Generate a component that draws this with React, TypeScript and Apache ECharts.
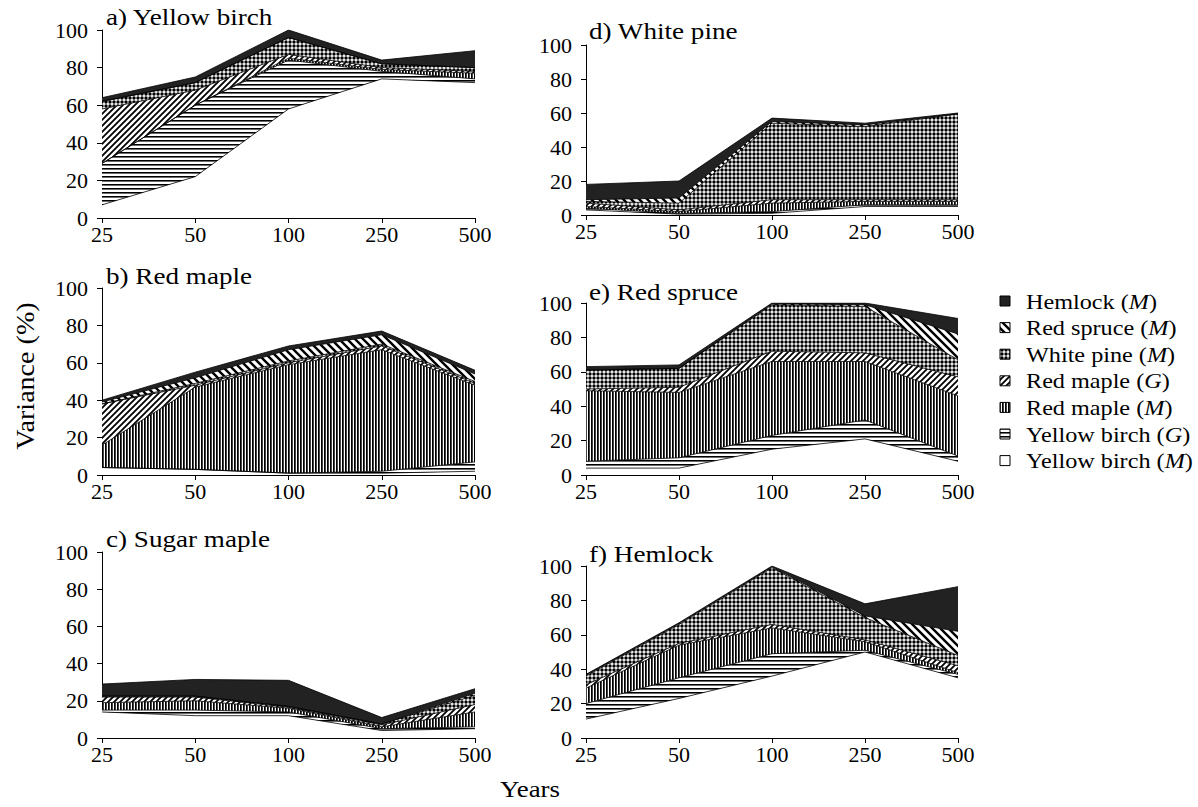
import React, { useEffect, useRef } from 'react';
import * as echarts from 'echarts';

const years = ['25', '50', '100', '250', '500'];
const yMin = 0;
const yMax = 100;
const yStep = 20;

const speciesNames = ['Yellow birch', 'Yellow birch', 'Red maple', 'Red maple', 'White pine', 'Red spruce', 'Hemlock'];
const speciesTags = ['M', 'G', 'M', 'G', 'M', 'M', 'M'];
const panelTitles = ['a) Yellow birch', 'b) Red maple', 'c) Sugar maple', 'd) White pine', 'e) Red spruce', 'f) Hemlock'];

// a) Yellow birch
const aYBM = [7, 22, 58, 74, 72];
const aYBG = [22, 38, 26, 4, 2];
const aRMM = [0, 0, 1, 1, 3];
const aRMG = [29, 8, 2, 1, 1];
const aWP = [4, 4, 9, 2, 2];
const aRS = [0, 0, 0, 0, 0];
const aHM = [2, 3, 4, 2, 9];

// b) Red maple
const bYBM = [4, 3, 1, 1, 2];
const bYBG = [0, 0, 0, 1, 5];
const bRMM = [12, 44, 58, 65, 41];
const bRMG = [22, 1, 1, 2, 1];
const bWP = [0, 1, 1, 1, 1];
const bRS = [1, 3, 6, 5, 4];
const bHM = [1, 3, 2, 2, 2];

// c) Sugar maple
const cYBM = [14, 12, 12, 4, 5];
const cYBG = [1, 3, 2, 1, 1];
const cRMM = [4, 5, 2, 1, 8];
const cRMG = [3, 2, 0.5, 1, 4];
const cWP = [0.5, 0.5, 0.5, 0.5, 5];
const cRS = [0, 0, 0, 0, 1];
const cHM = [6.5, 9, 14, 3.5, 2.5];

// d) White pine
const dYBM = [3, 0.5, 1, 5, 5];
const dYBG = [1, 0.5, 1, 1, 1];
const dRMM = [1, 1, 5, 2, 2];
const dRMG = [2, 1, 2, 1, 1];
const dWP = [1, 4, 45, 43, 50.5];
const dRS = [1, 3, 1, 1, 0];
const dHM = [9, 10, 2, 1, 0.5];

// e) Red spruce
const eYBM = [4, 4, 15, 21, 8];
const eYBG = [4, 6, 8, 11, 3];
const eRMM = [41, 38, 43, 34, 35];
const eRMG = [1, 3, 6, 5, 11];
const eWP = [11, 11, 27, 27, 10];
const eRS = [0, 0, 0.5, 1, 15];
const eHM = [2, 2, 0.5, 1, 9];

// f) Hemlock
const fYBM = [11, 23, 36, 50, 35];
const fYBG = [9, 12, 13, 1, 2];
const fRMM = [9, 19, 15, 5, 1];
const fRMG = [2, 1, 2, 1, 4];
const fWP = [5, 11, 33, 13, 6];
const fRS = [0.5, 0.5, 0.5, 1, 14];
const fHM = [0.5, 0.5, 0.5, 7, 26];

const panelData = [
  [aYBM, aYBG, aRMM, aRMG, aWP, aRS, aHM],
  [bYBM, bYBG, bRMM, bRMG, bWP, bRS, bHM],
  [cYBM, cYBG, cRMM, cRMG, cWP, cRS, cHM],
  [dYBM, dYBG, dRMM, dRMG, dWP, dRS, dHM],
  [eYBM, eYBG, eRMM, eRMG, eWP, eRS, eHM],
  [fYBM, fYBG, fRMM, fRMG, fWP, fRS, fHM],
];

const FONT = "'Liberation Serif', 'Times New Roman', serif";

const gridBoxes = [
  { left: 102, top: 30, width: 373, height: 188 },
  { left: 102, top: 288, width: 373, height: 187 },
  { left: 102, top: 552, width: 373, height: 186 },
  { left: 586, top: 45, width: 372, height: 170 },
  { left: 586, top: 303, width: 372, height: 172 },
  { left: 586, top: 566, width: 372, height: 172 },
];
const titlePos = [
  [106, 17], [106, 276], [106, 539], [589, 31], [589, 292], [589, 554],
];

function makeCanvas(w: number, h: number, draw: (ctx: CanvasRenderingContext2D) => void) {
  const c = document.createElement('canvas');
  c.width = w;
  c.height = h;
  const ctx = c.getContext('2d') as CanvasRenderingContext2D;
  ctx.fillStyle = '#fff';
  ctx.fillRect(0, 0, w, h);
  ctx.fillStyle = '#000';
  ctx.strokeStyle = '#000';
  draw(ctx);
  return c;
}

function buildPatterns(): any[] {
  const white = '#ffffff';
  const hl = makeCanvas(4, 4, (ctx) => {
    ctx.fillRect(0, 0, 4, 1);
    ctx.fillStyle = '#6a6a6a';
    ctx.fillRect(0, 1, 4, 1);
  });
  const vl = makeCanvas(3, 3, (ctx) => {
    ctx.fillRect(0, 0, 1, 3);
    ctx.fillStyle = '#444';
    ctx.fillRect(1, 0, 1, 3);
  });
  const fwd = makeCanvas(6, 6, (ctx) => {
    ctx.lineWidth = 1.8;
    ctx.beginPath();
    ctx.moveTo(-1, 7); ctx.lineTo(7, -1);
    ctx.moveTo(-4, 4); ctx.lineTo(4, -4);
    ctx.moveTo(2, 10); ctx.lineTo(10, 2);
    ctx.stroke();
  });
  const dots = makeCanvas(4, 4, (ctx) => {
    ctx.beginPath();
    ctx.arc(2, 2, 1.7, 0, Math.PI * 2);
    ctx.fill();
  });
  const back = makeCanvas(8, 8, (ctx) => {
    ctx.lineWidth = 2.4;
    ctx.beginPath();
    ctx.moveTo(-1, -1); ctx.lineTo(9, 9);
    ctx.moveTo(-5, 3); ctx.lineTo(5, 13);
    ctx.moveTo(3, -5); ctx.lineTo(13, 5);
    ctx.stroke();
  });
  const pat = (c: HTMLCanvasElement) => ({ image: c, repeat: 'repeat', imageWidth: c.width, imageHeight: c.height });
  return [white, pat(hl), pat(vl), pat(fwd), pat(dots), pat(back), '#222222'];
}

export default function App() {
  const ref = useRef<HTMLDivElement>(null);
  useEffect(() => {
    if (!ref.current) return;
    const chart = echarts.init(ref.current, undefined, { renderer: 'svg' });
    const patterns = buildPatterns();

    const grid = gridBoxes.map((g) => ({ ...g, containLabel: false }));
    const xAxis = gridBoxes.map((_, i) => ({
      type: 'category',
      gridIndex: i,
      data: years,
      boundaryGap: false,
      axisLine: { show: true, onZero: false, lineStyle: { color: '#000', width: 1 } },
      axisTick: { show: true, length: 5, lineStyle: { color: '#000' } },
      axisLabel: { color: '#000', fontFamily: FONT, fontSize: 22, margin: 5 },
      splitLine: { show: false },
    }));
    const yAxis = gridBoxes.map((_, i) => ({
      type: 'value',
      gridIndex: i,
      min: yMin,
      max: yMax,
      interval: yStep,
      axisLine: { show: true, lineStyle: { color: '#000', width: 1 } },
      axisTick: { show: true, length: 5, lineStyle: { color: '#000' } },
      axisLabel: { color: '#000', fontFamily: FONT, fontSize: 22, margin: 14 },
      splitLine: { show: false },
    }));

    const series: any[] = [];
    panelData.forEach((pd, p) => {
      pd.forEach((vals, s) => {
        series.push({
          type: 'line',
          name: speciesNames[s] + ' (' + speciesTags[s] + ')',
          xAxisIndex: p,
          yAxisIndex: p,
          stack: 'panel' + p,
          data: vals,
          symbol: 'none',
          silent: true,
          lineStyle: { color: '#000', width: 0.8 },
          areaStyle: { color: patterns[s], opacity: 1 },
        });
      });
    });

    const graphics: any[] = [];
    panelTitles.forEach((t, i) => {
      graphics.push({
        type: 'text',
        x: titlePos[i][0],
        y: titlePos[i][1],
        scaleX: 1.13,
        style: { text: t, fontFamily: FONT, fontSize: 24, fill: '#000', verticalAlign: 'middle' },
      });
    });
    graphics.push({
      type: 'text',
      x: 25,
      y: 376,
      rotation: Math.PI / 2,
      scaleX: 1.08,
      style: { text: 'Variance (%)', fontFamily: FONT, fontSize: 26, fill: '#000', align: 'center', verticalAlign: 'middle' },
    });
    graphics.push({
      type: 'text',
      x: 530,
      y: 789,
      scaleX: 1.12,
      style: { text: 'Years', fontFamily: FONT, fontSize: 24, fill: '#000', align: 'center', verticalAlign: 'middle' },
    });

    const legendOrder = [6, 5, 4, 3, 2, 1, 0];
    legendOrder.forEach((s, k) => {
      const cy = 301 + k * 26.6;
      graphics.push({
        type: 'rect',
        shape: { x: 1000, y: cy - 5, width: 10, height: 10 },
        style: { fill: patterns[s], stroke: '#000', lineWidth: 1 },
      });
      graphics.push({
        type: 'text',
        x: 1026,
        y: cy,
        scaleX: 1.1,
        style: {
          text: '{n|' + speciesNames[s] + ' (}{i|' + speciesTags[s] + '}{n|)}',
          verticalAlign: 'middle',
          rich: {
            n: { fontFamily: FONT, fontSize: 22, fill: '#000' },
            i: { fontFamily: FONT, fontSize: 22, fontStyle: 'italic', fill: '#000' },
          },
        },
      });
    });

    chart.setOption({
      animation: false,
      backgroundColor: '#fff',
      grid,
      xAxis,
      yAxis,
      series,
      graphic: { elements: graphics },
    });
    return () => chart.dispose();
  }, []);
  return <div ref={ref} style={{ position: 'fixed', left: 0, top: 0, width: 1198, height: 807 }} />;
}
